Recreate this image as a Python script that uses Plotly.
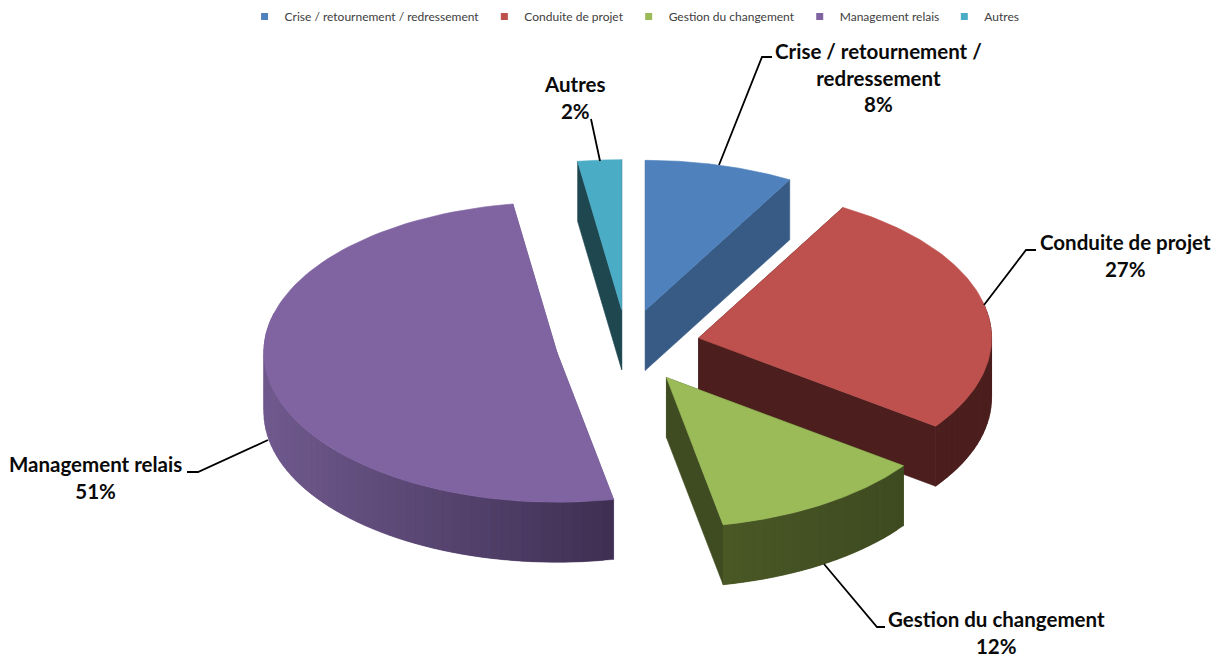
import math
import plotly.graph_objects as go

# ---- data -----------------------------------------------------------------
categories = ["Crise / retournement / redressement", "Conduite de projet",
              "Gestion du changement", "Management relais", "Autres"]
values = [8.2, 26.8, 11.9, 50.7, 2.4]
label_lines = ["Crise / retournement /<br>redressement", "Conduite de projet",
               "Gestion du changement", "Management relais", "Autres"]

# ---- style ----------------------------------------------------------------
top_colors = ["#4F81BD", "#BE504D", "#9BBB59", "#8064A2", "#4BACC6"]
cut_colors = ["#385B85", "#4C1F1E", "#3F4B20", "#5E4A7A", "#1F4750"]
wall_left = [(56, 91, 133), (76, 31, 30), (74, 88, 38), (112, 90, 142), (31, 71, 80)]
wall_right = [(56, 91, 133), (76, 31, 30), (62, 74, 32), (62, 47, 82), (31, 71, 80)]
draw_order = [0, 4, 3, 1, 2]
pulls = [0.246, 0.25, 0.25, 0.243, 0.243]

# ---- pie geometry (pixels of the 1219x661 reference) ------------------------
CX, CY, RX, RY, DEPTH = 627, 346, 293, 150, 60
PAGE_X, PAGE_Y = 8, 8   # body margin of the written page
LABEL_FONT = dict(family="Lato, Carlito, sans-serif", size=20.5, color="#0a0a0a")

total = sum(values)
starts, acc = [], 0.0
for v in values:
    starts.append(acc / total * 2 * math.pi)
    acc += v


def pt(ax, ay, ang):
    return ax + RX * math.sin(ang), ay - RY * math.cos(ang)


def rgb(c):
    return "rgb(%d,%d,%d)" % tuple(round(k) for k in c)


fig = go.Figure()


def poly(pts, color, lw=0.6):
    fig.add_trace(go.Scatter(
        x=[p[0] for p in pts] + [pts[0][0]], y=[p[1] for p in pts] + [pts[0][1]],
        mode="lines", fill="toself", fillcolor=color,
        line=dict(color=color, width=lw), hoverinfo="skip", showlegend=False))


for i in draw_order:
    a0 = starts[i]
    a1 = a0 + values[i] / total * 2 * math.pi
    mid = (a0 + a1) / 2
    ax, ay = pt(CX, CY, mid)
    ax, ay = CX + (ax - CX) * pulls[i], CY + (ay - CY) * pulls[i]
    # cut faces
    for a in (a0, a1):
        px, py = pt(ax, ay, a)
        poly([(ax, ay), (px, py), (px, py + DEPTH), (ax, ay + DEPTH)], cut_colors[i])
    # outer wall, shaded along its length; each band overlaps the next one
    n = max(2, int((a1 - a0) / math.radians(2)))
    angs = [a0 + (a1 - a0) * k / n for k in range(n + 1)]
    xs = [pt(ax, ay, a)[0] for a in angs]
    lo, hi = min(xs), max(xs)
    for k in range(n):
        if math.cos(angs[k]) > 0.2 and math.cos(angs[min(k + 1, n)]) > 0.2:
            continue
        band = [pt(ax, ay, angs[j]) for j in range(k, min(k + 3, n + 1))]
        t = ((band[0][0] + band[1][0]) / 2 - lo) / max(hi - lo, 1)
        c = [wall_left[i][j] + (wall_right[i][j] - wall_left[i][j]) * t for j in range(3)]
        poly(band + [(p[0], p[1] + DEPTH) for p in reversed(band)], rgb(c), lw=0.3)
    # top face
    poly([(ax, ay)] + [pt(ax, ay, a) for a in
                       [a0 + (a1 - a0) * k / 90 for k in range(91)]], top_colors[i])

# legend entries
for name, col in zip(categories, top_colors):
    fig.add_trace(go.Scatter(x=[None], y=[None], mode="markers", name=name,
                             marker=dict(symbol="square", size=7, color=col)))

# leader lines
leaders = [[(719, 165), (762, 57), (772, 57)],
           [(984, 305), (1026, 250), (1036, 250)],
           [(824, 564), (877, 627), (885, 627)],
           [(268, 440), (198, 472), (187, 472)],
           [(600, 161), (591, 119)]]
for pts in leaders:
    fig.add_trace(go.Scatter(x=[p[0] for p in pts], y=[p[1] for p in pts], mode="lines",
                             line=dict(color="#000000", width=1.8),
                             hoverinfo="skip", showlegend=False))

# data labels: centre x, top y of the block
label_pos = [(878, 36.5), (1125, 227.5), (996, 605), (95, 449.5), (575, 70)]
annotations = []
for txt, v, (lx, ly) in zip(label_lines, values, label_pos):
    annotations.append(dict(
        x=lx, y=ly, xref="x", yref="y", xanchor="center", yanchor="top",
        text="<b>%s<br>%.0f%%</b>" % (txt, v / total * 100), showarrow=False,
        font=LABEL_FONT, align="center"))

fig.update_layout(
    width=1219, height=661, margin=dict(l=0, r=0, t=0, b=0, autoexpand=False),
    paper_bgcolor="white", plot_bgcolor="white",
    xaxis=dict(range=[PAGE_X, 1219 + PAGE_X], visible=False, fixedrange=True),
    yaxis=dict(range=[661 + PAGE_Y, PAGE_Y], visible=False, fixedrange=True),
    legend=dict(orientation="h", x=0.514, xanchor="center", y=1 - 8.5 / 661, yanchor="middle",
                font=dict(family="Lato, Carlito, sans-serif", size=12, color="#404040"),
                bgcolor="rgba(0,0,0,0)", itemclick=False, itemdoubleclick=False),
    annotations=annotations,
)
fig.write_html("out.html", config={"displayModeBar": False})
